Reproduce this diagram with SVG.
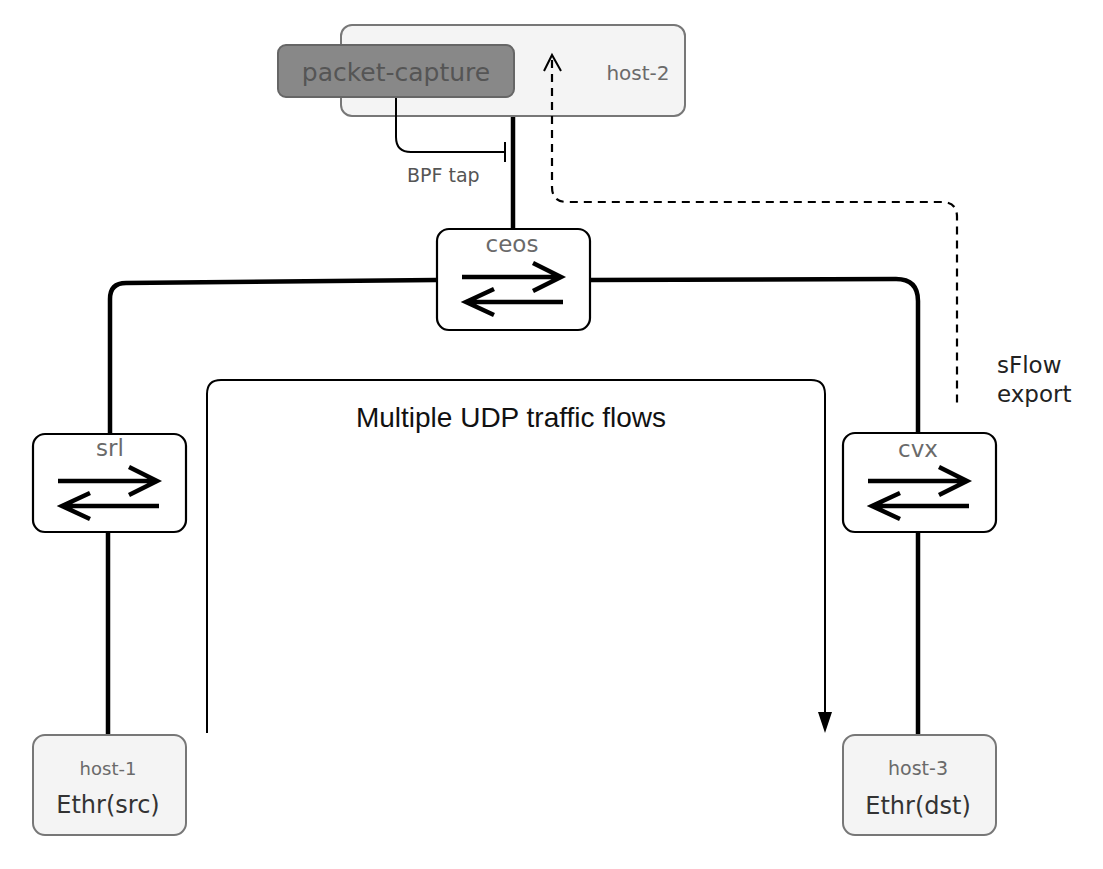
<svg xmlns="http://www.w3.org/2000/svg" width="1103" height="869" viewBox="0 0 1103 869">
<style>
.host{fill:#f4f4f4;stroke:#777;stroke-width:2}
.sw{fill:#fff;stroke:#000;stroke-width:2.2}
.lbl{font-family:"DejaVu Sans",sans-serif;text-anchor:middle}
.gray{fill:#6a6a6a}
.dark{fill:#333}
.link{fill:none;stroke:#000;stroke-width:4.5;stroke-linejoin:round}
.thin{fill:none;stroke:#000;stroke-width:2}
.dash{fill:none;stroke:#000;stroke-width:2.2;stroke-dasharray:8 6}
.sa{fill:none;stroke:#000;stroke-width:4.5;stroke-linecap:butt;stroke-linejoin:miter}
</style>
<defs>
<g id="swarrows">
<path class="sa" d="M25,48 H123 M96,34 L124,48 L96,62"/>
<path class="sa" d="M126,73 H30 M57,60 L29,73 L57,86"/>
</g>
</defs>
<rect width="1103" height="869" fill="#fff"/>

<g id="host-2">
<rect class="host" x="341" y="25" width="344" height="91" rx="11"/>
<text class="lbl gray" x="638" y="80" font-size="20">host-2</text>
</g>

<g id="packet-capture">
<rect x="278" y="45" width="236" height="52" rx="8" fill="#888" stroke="#666" stroke-width="2"/>
<text class="lbl" x="396" y="81" font-size="25" fill="#555">packet-capture</text>
</g>

<g id="bpf-label">
<text x="407" y="182" font-family="DejaVu Sans,sans-serif" font-size="19" fill="#555">BPF tap</text>
</g>

<g id="ceos">
<rect class="sw" x="437" y="229" width="153" height="101" rx="12"/>
<text class="lbl gray" x="512" y="252" font-size="23">ceos</text>
<use href="#swarrows" x="437" y="229"/>
</g>

<g id="srl">
<rect class="sw" x="33" y="434" width="153" height="98" rx="12"/>
<text class="lbl gray" x="110" y="456" font-size="23">srl</text>
<use href="#swarrows" x="33" y="433"/>
</g>

<g id="cvx">
<rect class="sw" x="843" y="433" width="153" height="99" rx="12"/>
<text class="lbl gray" x="918" y="457" font-size="23">cvx</text>
<use href="#swarrows" x="843" y="433"/>
</g>

<g id="host-1">
<rect class="host" x="33" y="735" width="153" height="100" rx="12"/>
<text class="lbl gray" x="108" y="775" font-size="18">host-1</text>
<text class="lbl dark" x="108" y="813" font-size="24">Ethr(src)</text>
</g>

<g id="host-3">
<rect class="host" x="843" y="735" width="153" height="100" rx="12"/>
<text class="lbl gray" x="918" y="775" font-size="19">host-3</text>
<text class="lbl dark" x="918" y="814" font-size="24">Ethr(dst)</text>
</g>

<g id="connectors">
<path class="link" d="M513,117 V228"/>
<path class="link" d="M436,280 L126,283 Q110,283 110,299 V433"/>
<path class="link" d="M591,280 L896,279 Q918,279 918,301 V432"/>
<path class="link" d="M108,533 V734"/>
<path class="link" d="M918,533 V734"/>
<path class="thin" d="M396,98 V137 Q396,152 411,152 H505 M505,142 V162"/>
<path class="dash" d="M552,60 V187 Q552,202 567,202 H942 Q957,202 957,217 V405"/>
<path class="thin" d="M544,71 L552,55 L561,71" stroke-width="2.4"/>
<path class="thin" d="M207,733 V394 Q207,380 221,380 H811 Q825,380 825,394 V712"/>
<path d="M818,712 L832,712 L825,733 Z" fill="#000"/>
</g>

<g id="labels">
<text x="511" y="427" font-family="Liberation Sans,Arial,sans-serif" font-size="28" text-anchor="middle" fill="#111">Multiple UDP traffic flows</text>
<text x="997" y="373" font-family="DejaVu Sans,sans-serif" font-size="23" fill="#222">sFlow</text>
<text x="997" y="402" font-family="DejaVu Sans,sans-serif" font-size="23" fill="#222">export</text>
</g>
</svg>
